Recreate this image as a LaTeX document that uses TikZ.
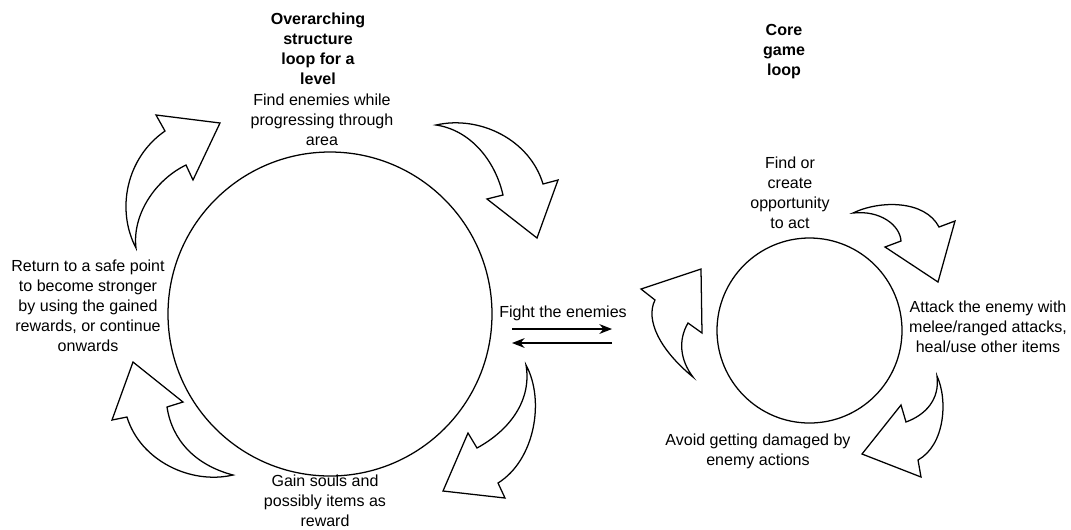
\documentclass[tikz,border=0pt]{standalone}
\usepackage{fontspec}
\setmainfont{Liberation Sans}
\usepackage{tikz}
\usetikzlibrary{arrows.meta}

\begin{document}
\begin{tikzpicture}[x=0.025cm,y=-0.025cm,
    txt/.style={align=center,font=\fontsize{11.4}{14.2}\selectfont,inner sep=0pt},
    ttl/.style={txt,font=\fontsize{11.4}{14.2}\selectfont\bfseries},
    loopcirc/.style={draw,line width=0.9pt},
    curvarr/.style={draw,line width=0.9pt,line join=miter,fill=white},
    fightarr/.style={-{Stealth[length=9pt,width=7pt]},line width=0.8pt}]
    \useasboundingbox (0,0) rectangle (1071,529);

    % the two loops
    \node[loopcirc,circle,minimum size=324*0.025cm] (big) at (330,314) {};
    \node[loopcirc,circle,minimum size=185*0.025cm] (small) at (809.5,330.5) {};

    % texts
    \node[ttl] (ttlbig) at (318,48.5) {Overarching\\structure\\loop for a\\level};
    \node[txt] (find) at (322,120) {Find enemies while\\progressing through\\area};
    \node[txt] (ret) at (88,306) {Return to a safe point\\to become stronger\\by using the gained\\rewards, or continue\\onwards};
    \node[txt] (gain) at (325,500.5) {Gain souls and\\possibly items as\\reward};
    \node[txt] (fight) at (563,313) {Fight the enemies};

    \node[ttl] (ttlcore) at (784,51.5) {Core\\game\\loop};
    \node[txt] (opp) at (790,192.5) {Find or\\create\\opportunity\\to act};
    \node[txt] (att) at (988,327) {Attack the enemy with\\melee/ranged attacks,\\heal/use other items};
    \node[txt] (avoid) at (758,451) {Avoid getting damaged by\\enemy actions};

    % arrows between the loops
    \coordinate (fa1) at (512,329);
    \coordinate (fa2) at (612,329);
    \coordinate (fb1) at (612,343);
    \coordinate (fb2) at (512,343);
    \draw[fightarr] (fa1) -- (fa2);
    \draw[fightarr] (fb1) -- (fb2);

    % curved arrows, big loop
    \draw[curvarr] (136,248) .. controls (116,210) and (126,158) .. (165,131)
        -- (156,115) -- (220,123) -- (193,180) -- (186,165)
        .. controls (155,180) and (132,215) .. cycle;
    \draw[curvarr] (436,125) .. controls (480,115) and (530,140) .. (543,184)
        -- (558,180) -- (537,238) -- (487,199) -- (503,195)
        .. controls (495,160) and (470,130) .. cycle;
    \draw[curvarr] (526,365) .. controls (545,400) and (535,460) .. (498,483)
        -- (505,498) -- (443,491) -- (468,433) -- (477,448)
        .. controls (510,430) and (532,400) .. cycle;
    \draw[curvarr] (233,475) .. controls (190,485) and (140,460) .. (127,417)
        -- (112,420) -- (133,362) -- (183,402) -- (167,407)
        .. controls (172,440) and (195,465) .. cycle;

    % curved arrows, core loop
    \draw[curvarr] (693,377) .. controls (660,350) and (645,320) .. (655,300)
        -- (641,289) -- (701,269) -- (702,333) -- (688,323)
        .. controls (678,340) and (680,360) .. cycle;
    \draw[curvarr] (853,213) .. controls (880,200) and (925,200) .. (939,227)
        -- (955,221) -- (938,282) -- (885,247) -- (901,241)
        .. controls (900,225) and (880,210) .. cycle;
    \draw[curvarr] (937,376) .. controls (948,400) and (945,445) .. (918,460)
        -- (921,477) -- (862,454) -- (901,405) -- (906,422)
        .. controls (925,415) and (940,400) .. cycle;
\end{tikzpicture}
\end{document}
